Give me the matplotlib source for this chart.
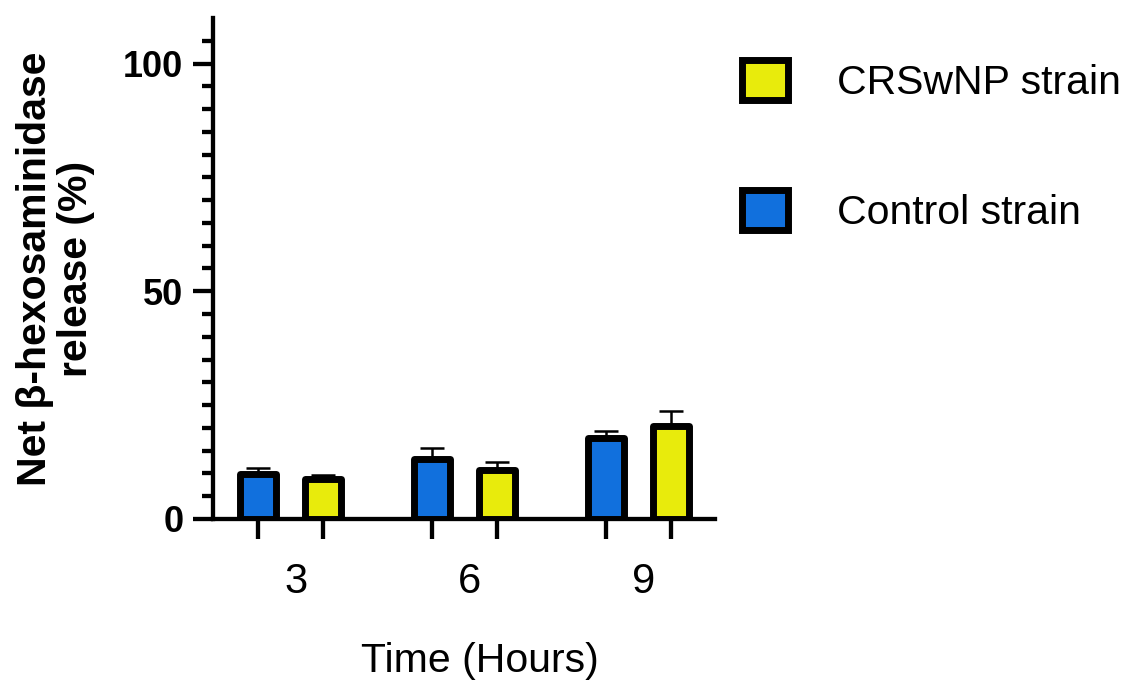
import numpy as np
import matplotlib
matplotlib.use('Agg')
import matplotlib.pyplot as plt
from matplotlib.patches import Patch

plt.rcParams['font.family'] = ['Liberation Sans', 'DejaVu Sans']

# values (%)
times = ['3', '6', '9']
control_mean = [9.8, 13.1, 17.7]
control_err = [1.5, 2.4, 1.6]
crs_mean = [8.7, 10.8, 20.4]
crs_err = [1.0, 1.8, 3.3]

blue = '#1170dd'
yellow = '#e8eb0c'

groups = np.arange(len(times))
off = 0.187
w = 0.21

fig = plt.figure(figsize=(11.28, 6.8), dpi=100)
ax = fig.add_axes([213 / 1128, 1 - 519 / 680, (715 - 213) / 1128, (519 - 18) / 680])

x_ctrl = groups - off
x_crs = groups + off

# upper error bars only, behind the bars
ax.errorbar(x_ctrl, control_mean, yerr=[np.zeros(3), control_err], fmt='none',
            ecolor='black', elinewidth=1.8, capsize=8.3, capthick=1.8, zorder=1)
ax.errorbar(x_crs, crs_mean, yerr=[np.zeros(3), crs_err], fmt='none',
            ecolor='black', elinewidth=1.8, capsize=8.3, capthick=1.8, zorder=1)

ax.bar(x_ctrl, control_mean, width=w, color=blue, edgecolor='black',
       linewidth=5, joinstyle='round', zorder=2)
ax.bar(x_crs, crs_mean, width=w, color=yellow, edgecolor='black',
       linewidth=5, joinstyle='round', zorder=2)

ax.set_xlim(-0.445, 2.44)
ax.set_ylim(0, 110)

for s in ['top', 'right']:
    ax.spines[s].set_visible(False)
for s in ['left', 'bottom']:
    ax.spines[s].set_linewidth(3.1)
    ax.spines[s].set_zorder(3)

ax.set_yticks([0, 50, 100])
ax.set_yticks(np.arange(5, 110, 5), minor=True)
ax.tick_params(axis='y', which='major', length=14.4, width=3.1, labelsize=26, pad=7)
ax.tick_params(axis='y', which='minor', length=7.8, width=3.1)
for lab in ax.get_yticklabels():
    lab.set_fontweight('bold')

# tick marks under every bar, labels at group centres
ax.set_xticks(np.concatenate([x_ctrl, x_crs]), minor=True)
ax.set_xticks(groups + 0.03)
ax.set_xticklabels(times)
ax.tick_params(axis='x', which='minor', length=14.4, width=3.1)
ax.tick_params(axis='x', which='major', length=0, labelsize=30, pad=31)

ax.set_xlabel('Time (Hours)', fontsize=29.5, labelpad=26)
ax.xaxis.set_label_coords(0.532, -0.245)
ax.set_ylabel('Net β-hexosaminidase\nrelease (%)', fontsize=29.5, fontweight='bold',
              labelpad=20, linespacing=1.1)

handles = [Patch(facecolor=yellow, edgecolor='black', linewidth=5, joinstyle='round'),
           Patch(facecolor=blue, edgecolor='black', linewidth=5, joinstyle='round')]
fig.legend(handles, ['CRSwNP strain', 'Control strain'], loc='upper left',
           bbox_to_anchor=(742 / 1128, 1 - 60 / 680), frameon=False, fontsize=29.5,
           handlelength=1.13, handleheight=1.13, handletextpad=1.2,
           labelspacing=2.15, borderpad=0, borderaxespad=0)

fig.savefig('out.png', dpi=100)
